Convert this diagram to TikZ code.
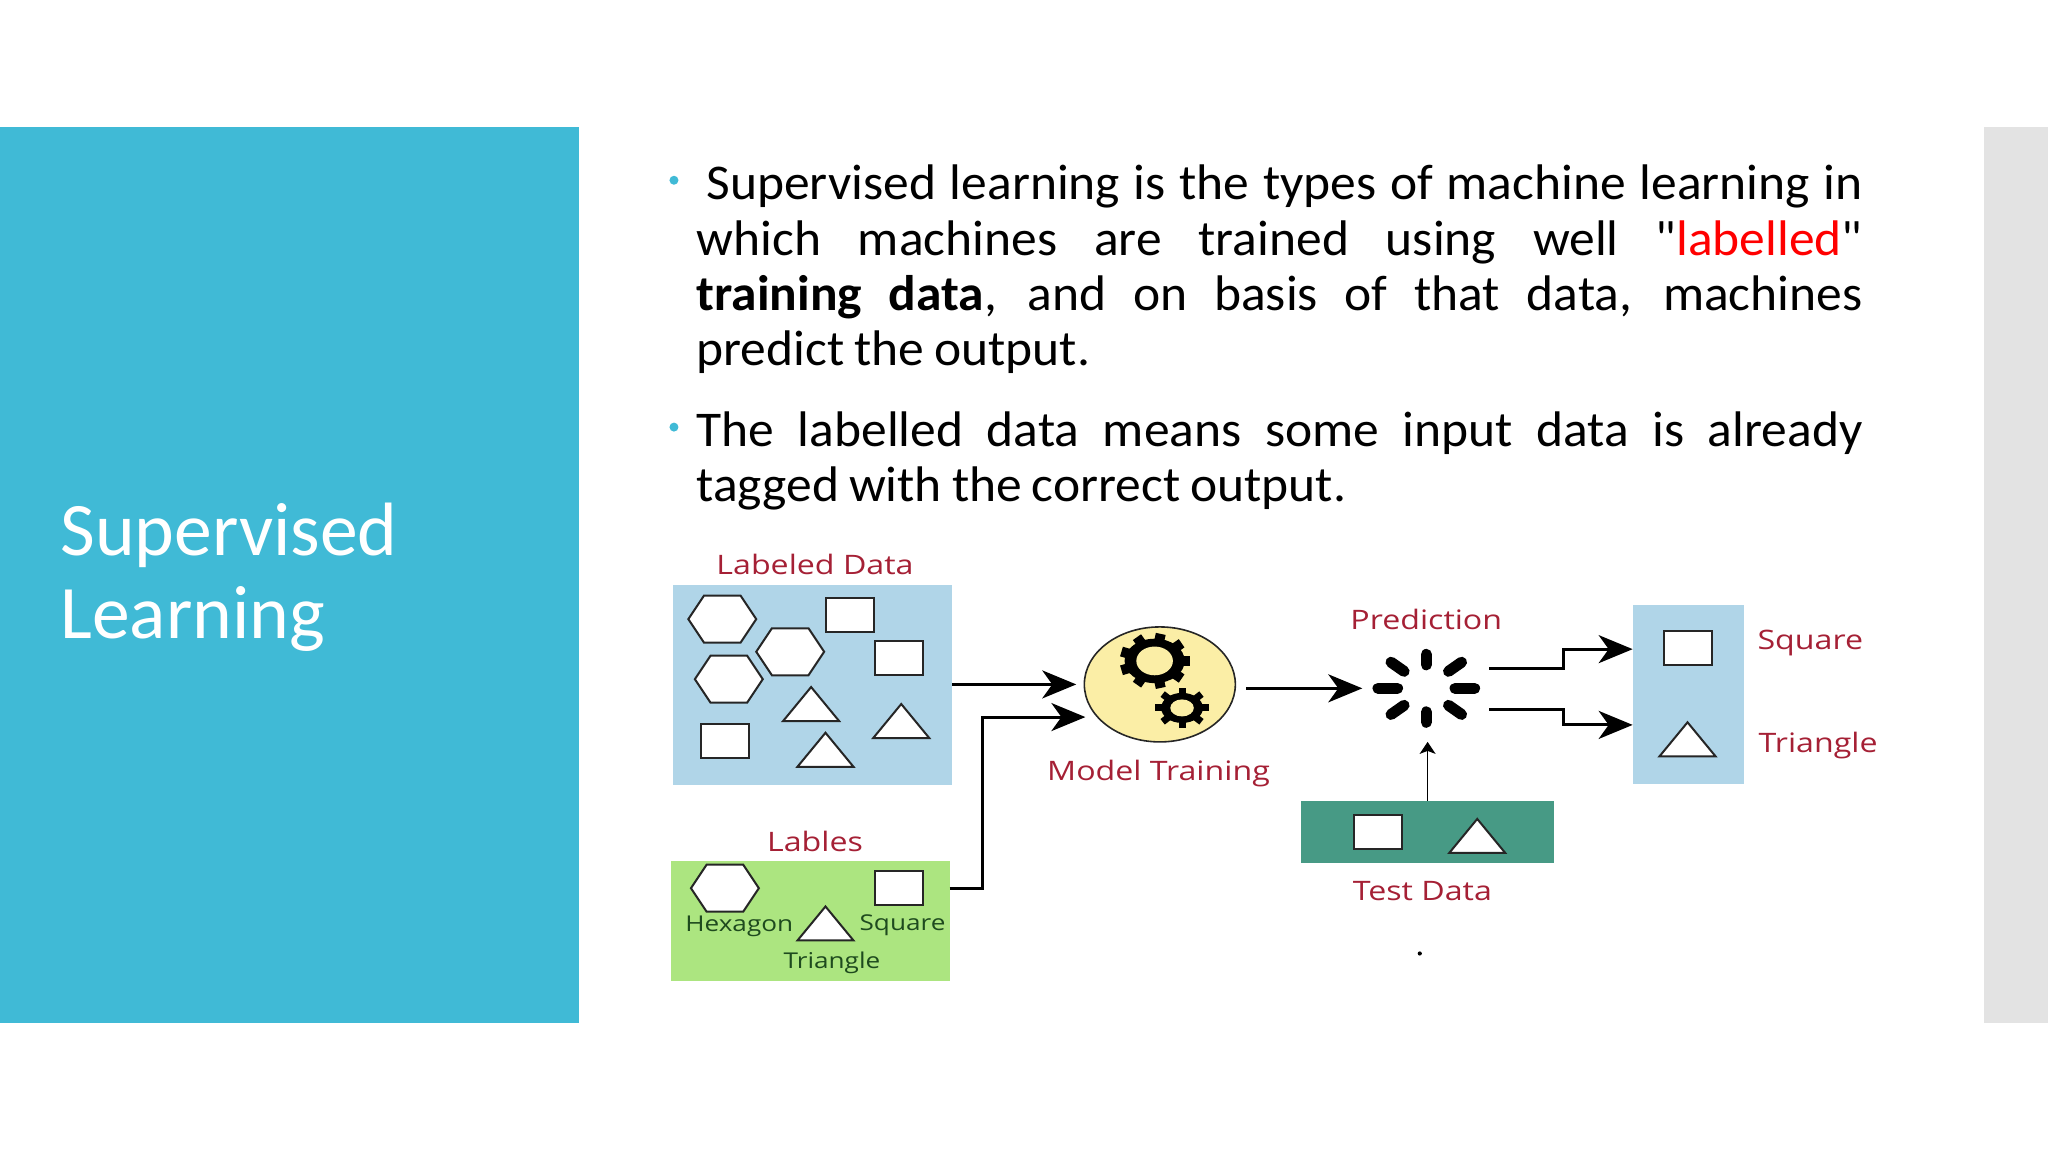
\documentclass[tikz,border=0pt]{standalone}
\usepackage{fontspec}
\setmainfont{Carlito}[Ligatures=TeXOff]
\newfontfamily\bodyfont{Carlito}[Ligatures=TeXOff, FakeStretch=1.03]
\newfontfamily\diafont{Open Sans}[FakeStretch=1.2]
\usetikzlibrary{arrows.meta,shapes.geometric}
\definecolor{teal}{HTML}{40BAD6}
\definecolor{sidegray}{HTML}{E3E3E3}
\definecolor{pale}{HTML}{B0D5E8}
\definecolor{leaf}{HTML}{ACE580}
\definecolor{sea}{HTML}{479A85}
\definecolor{butter}{HTML}{FBEEA6}
\definecolor{wine}{HTML}{A52035}
\definecolor{moss}{HTML}{1E4A1E}
\newcommand{\parablock}[1]{\parbox[t]{583pt}{\spaceskip=.2em plus .5em minus .04em\relax #1}}

\begin{document}
\begin{tikzpicture}[x=0.65306pt, y=-0.65306pt,
  panel/.style={anchor=north west, inner sep=0pt, outer sep=0pt},
  para/.style={anchor=north west, inner sep=0pt, font=\bodyfont\fontsize{25}{27.7}\selectfont},
  dot/.style={circle, fill=teal, inner sep=0pt, minimum size=4.5pt},
  hexa/.pic={\draw[draw=black!85, fill=white, line width=1pt] (-26,0) -- (-14,-18) -- (14,-18) -- (26,0) -- (14,18) -- (-14,18) -- cycle;},
  sq/.style={draw=black!85, fill=white, line width=1pt, inner sep=0pt, minimum width=24pt, minimum height=17pt},
  tri/.style={draw=black!85, fill=white, line width=1pt, isosceles triangle, isosceles triangle stretches, shape border rotate=90, anchor=apex, inner sep=0pt, minimum width=28pt, minimum height=17pt},
  heading/.style={font=\diafont\fontsize{13.4}{14}\selectfont, text=wine, inner sep=1pt},
  tag/.style={font=\diafont\fontsize{10.9}{12}\selectfont, text=moss, inner sep=1pt},
  link/.style={-{Stealth[length=17pt, width=14pt, inset=5pt]}, line width=1.5pt},
  thin link/.style={-{Stealth[length=6pt, width=8pt, inset=1.5pt]}, line width=0.7pt},
  spoke/.style={line width=5.5pt, line cap=round},
  tooth/.style={line width=5pt}]
\useasboundingbox (0,0) rectangle (1568,882);
% slide
\node[panel, fill=teal, minimum width=289.3pt, minimum height=448pt] (side) at (0,97) {};
\node[panel, fill=sidegray, minimum width=32pt, minimum height=448pt] (edge) at (1519,97) {};
\node[anchor=base west, inner sep=0pt, text=white, font=\fontsize{37.8}{40}\selectfont] (t1) at (46,425) {Supervised};
\node[anchor=base west, inner sep=0pt, text=white, font=\fontsize{37.8}{40}\selectfont] (t2) at (46,489) {Learning};
\node[dot] (b1) at (516,138) {}; \node[dot] (b2) at (516,327) {};
\node[para] (p1) at (533,126) {\parablock{\hspace*{5pt}Supervised learning is the types of machine learning in\linebreak
  which machines are trained using well "\textcolor{red}{labelled}"\linebreak
  \textbf{training data}, and on basis of that data, machines\linebreak predict the output.}};
\node[para] (p2) at (533,315) {\parablock{The labelled data means some input data is already\linebreak tagged with the correct output.}};
% boxes
\node[panel, fill=pale, minimum width=139.8pt, minimum height=100pt] (ldata) at (515,448) {};
\node[panel, fill=leaf, minimum width=139.1pt, minimum height=60pt] (lbl) at (514,659) {};
\node[panel, fill=sea, minimum width=126.7pt, minimum height=31.4pt] (test) at (996,613) {};
\node[panel, fill=pale, minimum width=55.5pt, minimum height=89.5pt] (out) at (1250,463) {};
\node[heading] (c1) at (624,432) {Labeled Data}; \node[heading] (c2) at (624,644) {Lables};
\node[heading] (c3) at (887,592) {Model Training}; \node[heading] (c4) at (1092,474) {Prediction};
\node[heading] (c5) at (1089,682) {Test Data}; \node[heading] (c6) at (1386,492) {Square};
\node[heading] (c7) at (1392,571) {Triangle};
\node[tag] (c8) at (566,709) {Hexagon}; \node[tag] (c9) at (691,708) {Square}; \node[tag] (c10) at (637,737) {Triangle};
% shapes in the boxes
\pic (h1) at (553,474) {hexa}; \pic (h2) at (605,499) {hexa}; \pic (h3) at (558,520) {hexa}; \pic (h4) at (555,680) {hexa};
\node[sq] (s1) at (651,471) {}; \node[sq] (s2) at (688,504) {}; \node[sq] (s3) at (555,567) {}; \node[sq] (s4) at (688,680) {};
\node[sq] (s5) at (1055,637) {}; \node[sq] (s6) at (1292,496) {};
\node[tri] (a1) at (621,524) {}; \node[tri] (a2) at (690,537) {}; \node[tri] (a3) at (632,559) {}; \node[tri] (a4) at (632,692) {};
\node[tri] (a5) at (1131,625) {}; \node[tri] (a6) at (1292,551) {};
% model with its gears
\node[ellipse, draw=black!85, fill=butter, line width=0.8pt, minimum width=75.5pt, minimum height=57.5pt, inner sep=0pt] (model) at (888,524) {};
\coordinate (g1) at (884,506); \coordinate (g2) at (905,542);
\foreach \a in {0,40,...,320} \draw[tooth] (g1) ++(\a:16 and 12) -- ++(\a:11 and 9);
\foreach \a in {0,45,...,315} \draw[tooth, line width=3.5pt] (g2) ++(\a:12 and 8) -- ++(\a:9 and 7);
\fill (g1) ellipse (23 and 17); \fill[butter] (g1) ellipse (14 and 11);
\fill (g2) ellipse (16 and 11.5); \fill[butter] (g2) ellipse (9 and 6.5);
% spinner
\node[circle, minimum size=54pt, inner sep=0pt] (pred) at (1092,527) {};
\foreach \a in {1,-1} \draw[spoke] (pred) ++(22*\a,0) -- ++(15*\a,0);
\foreach \a in {1,-1} \draw[spoke] (pred) ++(0,18*\a) -- ++(0,8*\a);
\foreach \a/\b in {1/1,1/-1,-1/1,-1/-1} \draw[spoke] (pred) ++(17*\a,13*\b) -- ++(10*\a,7*\b);
% connectors
\coordinate (m2) at (831,549); \coordinate (m3) at (954,527); \coordinate (p0) at (1043,527);
\coordinate (p1) at (1140,512); \coordinate (p2) at (1140,543); \coordinate (j1) at (1197,497); \coordinate (j2) at (1197,555);
\coordinate (p3) at (1093,568);
\draw[link] (ldata.east |- model) -- (824,524);
\draw[link] (lbl.east |- s4) -| (752,549) -- (m2);
\draw[link] (m3) -- (p0);
\draw[link] (p1) -| (j1) -- (out.west |- j1);
\draw[link] (p2) -| (j2) -- (out.west |- j2);
\draw[thin link] (test.north -| p3) -- (p3);
\fill (1087,730) circle (1.6);
\end{tikzpicture}
\end{document}
